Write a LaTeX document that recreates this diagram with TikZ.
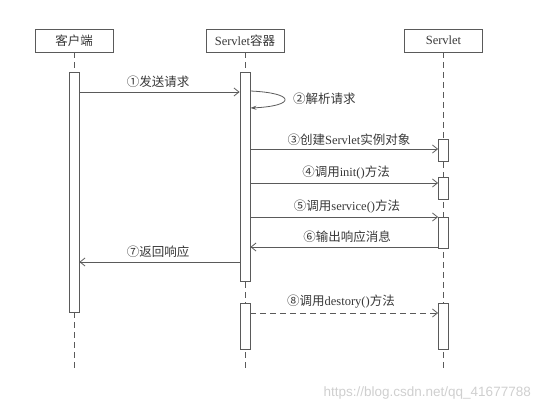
\documentclass[tikz,border=0pt]{standalone}
\usepackage{fontspec}
\setmainfont{Liberation Serif}
\newfontfamily\cjk{Noto Sans CJK SC}
\newfontfamily\wmfont{Liberation Sans}
\usetikzlibrary{arrows.meta}
\definecolor{ln}{HTML}{5A5A5A}
\definecolor{tx}{HTML}{383838}
\definecolor{wm}{HTML}{CFCFCF}
\begin{document}
\begin{tikzpicture}[x=1pt,y=-1pt,
  header/.style={draw=ln, line width=0.8pt, minimum width=78pt, minimum height=23pt, inner sep=0pt,
    text=tx, font=\fontsize{12.5}{14}\selectfont},
  actbox/.style={draw=ln, line width=0.8pt, fill=white, minimum width=10pt, inner sep=0pt, anchor=north},
  life/.style={draw=ln, line width=0.8pt, dash pattern=on 6pt off 4pt},
  msg/.style={draw=ln, line width=0.8pt, -{Straight Barb[length=5pt,width=8pt]}},
  lbl/.style={text=tx, font=\fontsize{12.5}{14}\selectfont, inner sep=1pt}]
\useasboundingbox (0,0) rectangle (540,412);
% headers
\node[header] (hc) at (74,40.5) {\cjk 客户端};
\node[header] (hs) at (245,40.5) {Servlet{\cjk 容器}};
\node[header] (hv) at (443.5,40.5) {Servlet};
% lifeline ends
\coordinate (ec) at (74,370);
\coordinate (es) at (245,370);
\coordinate (ev) at (443.5,370);
\draw[life] (hc.south) -- (ec);
\draw[life] (hs.south) -- (es);
\draw[life] (hv.south) -- (ev);
% activations
\node[actbox, minimum height=240pt] (ca) at (74,72) {};
\node[actbox, minimum height=209pt] (s1) at (245,72) {};
\node[actbox, minimum height=46pt] (s2) at (245,303) {};
\node[actbox, minimum height=22pt] (v1) at (443.5,139) {};
\node[actbox, minimum height=22pt] (v2) at (443.5,177) {};
\node[actbox, minimum height=31pt] (v3) at (443.5,217) {};
\node[actbox, minimum height=46pt] (v4) at (443.5,303) {};
% 1
\draw[msg] (ca.east |- 0,92) -- (s1.west |- 0,92);
\node[lbl] (l1) at (158,82) {\cjk ①发送请求};
% 2 self call
\draw[draw=ln, line width=0.8pt, -{Stealth[length=6pt,width=4pt]}]
  (s1.east |- 0,91) .. controls (296,93) and (296,106) .. (s1.east |- 0,108);
\node[lbl, anchor=west] (l2) at (292,99) {\cjk ②解析请求};
% 3
\draw[msg] (s1.east |- 0,149) -- (v1.west |- 0,149);
\node[lbl] (l3) at (349,139.5) {{\cjk ③创建}Servlet{\cjk 实例对象}};
% 4
\draw[msg] (s1.east |- 0,183) -- (v2.west |- 0,183);
\node[lbl] (l4) at (346,172.5) {{\cjk ④调用}init(){\cjk 方法}};
% 5
\draw[msg] (s1.east |- 0,217) -- (v3.west |- 0,217);
\node[lbl] (l5) at (347,207) {{\cjk ⑤调用}service(){\cjk 方法}};
% 6
\draw[msg] (v3.west |- 0,247) -- (s1.east |- 0,247);
\node[lbl] (l6) at (347,236.5) {\cjk ⑥输出响应消息};
% 7
\draw[msg] (s1.west |- 0,262) -- (ca.east |- 0,262);
\node[lbl] (l7) at (158,252) {\cjk ⑦返回响应};
% 8
\draw[msg, dash pattern=on 6pt off 4pt] (s2.east |- 0,313) -- (v4.west |- 0,313);
\node[lbl] (l8) at (341,302) {{\cjk ⑧调用}destory(){\cjk 方法}};
% watermark
\node[text=wm, font=\wmfont\fontsize{13.5}{15}\selectfont, anchor=east, inner sep=0pt] (wmk) at (531,393) {https://blog.csdn.net/qq\_41677788};
\end{tikzpicture}
\end{document}
